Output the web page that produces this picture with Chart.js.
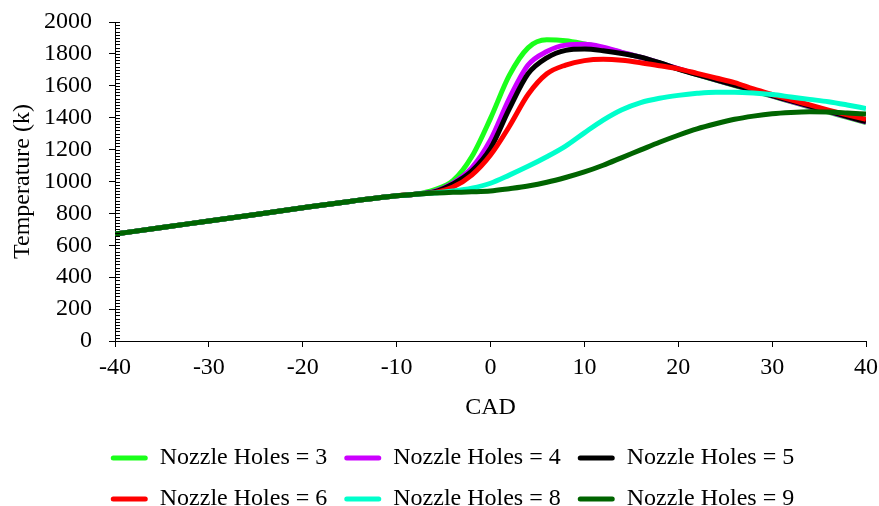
<!DOCTYPE html>
<html>
<head>
<meta charset="utf-8">
<script src="https://cdn.jsdelivr.net/npm/chart.js@4/dist/chart.umd.min.js"></script>
<style>
html, body { margin: 0; padding: 0; background: #fff; }
</style>
</head>
<body>
<canvas id="tempChart" width="879" height="506"></canvas>
<script>
const cad = [-40, -35, -30, -25, -20, -15, -10, -8, -6, -4, -2, 0, 2, 4, 6, 8, 10, 12, 14, 16, 18, 20, 22, 24, 26, 28, 30, 32, 34, 36, 38, 40];

const holes3 = [670, 712, 752, 793, 835, 875, 910, 920, 948, 1005, 1155, 1396, 1665, 1838, 1888, 1882, 1862, 1838, 1808, 1778, 1743, 1706, 1670, 1636, 1602, 1568, 1535, 1501, 1467, 1435, 1402, 1370];
const holes4 = [670, 712, 752, 793, 835, 875, 910, 920, 938, 990, 1085, 1260, 1520, 1730, 1815, 1855, 1860, 1842, 1810, 1779, 1744, 1707, 1671, 1637, 1604, 1570, 1537, 1503, 1470, 1438, 1405, 1373];
const holes5 = [670, 712, 752, 793, 835, 875, 910, 920, 935, 985, 1065, 1208, 1455, 1675, 1775, 1822, 1830, 1820, 1803, 1780, 1745, 1705, 1670, 1638, 1605, 1572, 1539, 1505, 1472, 1440, 1407, 1375];
const holes6 = [670, 712, 752, 793, 835, 875, 910, 920, 930, 965, 1040, 1166, 1345, 1545, 1675, 1730, 1758, 1766, 1760, 1745, 1726, 1706, 1678, 1649, 1620, 1580, 1545, 1512, 1480, 1448, 1418, 1390];
const holes8 = [670, 712, 752, 793, 835, 875, 910, 920, 928, 940, 958, 989, 1040, 1095, 1155, 1222, 1305, 1385, 1450, 1495, 1522, 1540, 1553, 1560, 1560, 1555, 1545, 1530, 1515, 1500, 1480, 1458];
const holes9 = [670, 712, 752, 793, 835, 875, 910, 920, 928, 932, 935, 940, 955, 972, 995, 1025, 1060, 1102, 1150, 1198, 1246, 1290, 1330, 1362, 1390, 1410, 1425, 1433, 1437, 1436, 1430, 1423];

const seriesNames = ['Nozzle Holes = 3', 'Nozzle Holes = 4', 'Nozzle Holes = 5', 'Nozzle Holes = 6', 'Nozzle Holes = 8', 'Nozzle Holes = 9'];
const seriesValues = [holes3, holes4, holes5, holes6, holes8, holes9];
const seriesColors = ['#1aff1a', '#cc00ff', '#000000', '#ff0000', '#00ffcc', '#006400'];

const fontFamily = '"Liberation Serif", "Times New Roman", serif';

// small ticks every 20 K on the inside of the y axis
const minorTicks = {
    id: 'minorTicks',
    afterDraw(chart) {
        const yScale = chart.scales.y;
        const ctx = chart.ctx;
        const left = Math.round(chart.chartArea.left);
        ctx.save();
        ctx.strokeStyle = '#000';
        ctx.lineWidth = 1;
        ctx.beginPath();
        for (let v = yScale.min; v <= yScale.max; v += 20) {
            const py = Math.round(yScale.getPixelForValue(v)) + 0.5;
            ctx.moveTo(left, py);
            ctx.lineTo(left + 5, py);
        }
        ctx.stroke();
        ctx.restore();
    }
};

const datasets = seriesValues.map((vals, i) => ({
    label: seriesNames[i],
    data: vals.map((t, k) => ({ x: cad[k], y: t })),
    borderColor: seriesColors[i],
    backgroundColor: seriesColors[i],
    borderWidth: 5,
    pointRadius: 0,
    cubicInterpolationMode: 'monotone',
    fill: false,
    order: seriesValues.length - i
}));

const ctx = document.getElementById('tempChart').getContext('2d');
new Chart(ctx, {
    type: 'line',
    data: { datasets: datasets },
    options: {
        responsive: false,
        animation: false,
        layout: { padding: { left: 26, top: 0, right: 0, bottom: 0 } },
        scales: {
            x: {
                type: 'linear',
                min: -40,
                max: 40,
                ticks: { stepSize: 10, color: '#000', padding: 6, font: { family: fontFamily, size: 24 } },
                grid: { drawOnChartArea: false, drawTicks: true, tickLength: 6, color: '#000' },
                border: { display: true, color: '#000', width: 1 },
                title: { display: true, text: 'CAD', color: '#000', font: { family: fontFamily, size: 24 }, padding: { top: 0, bottom: 7 } },
                afterFit: (scale) => {
                    scale.height = 88;
                    scale.paddingRight = 13;
                }
            },
            y: {
                min: 0,
                max: 2000,
                ticks: {
                    stepSize: 200,
                    autoSkip: false,
                    color: '#000',
                    padding: 17,
                    font: { family: fontFamily, size: 24 },
                    callback: (v) => String(v)
                },
                grid: { drawOnChartArea: false, drawTicks: true, tickLength: 6, color: '#000' },
                border: { display: true, color: '#000', width: 1 },
                title: { display: true, text: 'Temperature (k)', color: '#000', font: { family: fontFamily, size: 24 }, padding: { top: -18, bottom: 0 } },
                afterFit: (scale) => {
                    scale.width = 89;
                    scale.paddingTop = 22;
                }
            }
        },
        plugins: {
            legend: {
                position: 'bottom',
                maxHeight: 77,
                labels: {
                    color: '#000',
                    font: { family: fontFamily, size: 24 },
                    boxWidth: 37,
                    boxHeight: 5,
                    padding: 17,
                    useBorderRadius: true,
                    borderRadius: 2.5,
                    generateLabels: (chart) => Chart.defaults.plugins.legend.labels.generateLabels(chart)
                        .map((item) => Object.assign(item, { lineWidth: 0 })),
                    sort: (a, b) => a.datasetIndex - b.datasetIndex
                }
            },
            tooltip: { enabled: false }
        }
    },
    plugins: [minorTicks]
});
</script>
</body>
</html>
